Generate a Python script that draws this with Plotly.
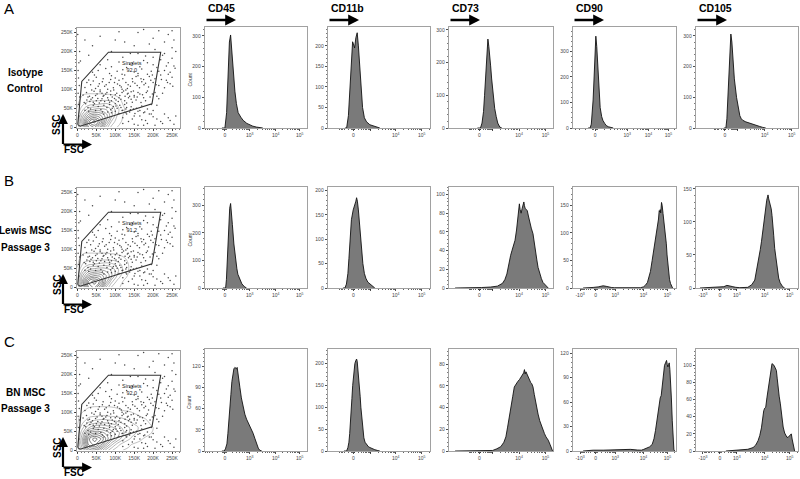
import math
import plotly.graph_objects as go

W, H = 800, 479
FONT = "Liberation Sans, Arial, sans-serif"

# ---------------- text content ----------------
markers = ["CD45", "CD11b", "CD73", "CD90", "CD105"]
row_letters = ["A", "B", "C"]
row_names = [["Isotype", "Control"], ["Lewis MSC", "Passage 3"], ["BN MSC", "Passage 3"]]
gate_name = "Singlets"
gate_pct = ["92.0", "91.2", "92.0"]

# ---------------- scatter (FSC / SSC, in K units) ----------------
scat_ticks = [0, 50, 100, 150, 200, 250]
scat_ticklabels = ["0", "50K", "100K", "150K", "200K", "250K"]
gate_fsc = [1, 11.6, 82, 220, 197, 7, 1]
gate_ssc = [7, 121, 198, 198, 62, 2.6, 7]

event_fsc = [20, 28, 35, 42, 55, 62, 70, 78, 85, 95, 105, 112, 120, 130, 138, 148, 160, 175, 190, 30, 48, 66, 88, 100, 125,
             18, 25, 33, 40, 50, 58, 65, 72, 80, 90, 98, 108, 115, 125, 135, 145, 155, 168, 180, 195, 210, 45, 85, 130, 150,
             15, 24, 32, 44, 52, 60, 70, 78, 88, 96, 104, 112, 122, 132, 142, 150, 160, 172, 185, 198, 210, 225, 65, 118, 138,
             20, 35, 48, 58, 72, 84, 95, 106, 116, 128, 140, 152, 164, 176, 188, 200, 215, 230, 245, 80, 134, 170,
             30, 50, 68, 90, 110, 125, 145, 160, 175, 190, 205, 220, 235, 250, 100, 185,
             40, 75, 105, 130, 150, 170, 195, 210, 230, 245, 258, 160,
             60, 110, 145, 175, 200, 220, 240, 255,
             30, 90, 140, 180, 205, 230, 250, 125, 200, 240, 60, 160, 255, 215,
             120, 135, 150, 170, 185, 200, 220, 240, 255, 160, 230, 130,
             3, 5, 2, 6, 4, 1,
             70, 80, 90, 100, 110, 118, 128, 140, 152, 165, 178, 92, 102, 115, 128, 142, 156, 170, 185, 200,
             22, 28, 36, 42, 48, 54, 62, 68, 75, 82, 92, 100, 110, 118, 126, 134, 142, 148, 158, 165, 175, 182, 192,
             205, 215, 60, 38, 88, 102, 128,
             25, 42, 55, 66, 76, 88, 98, 112, 120, 132, 146, 158, 168, 180, 194, 208, 222, 238, 252, 45, 85, 118,
             155, 198, 240,
             55, 90, 120, 138, 165, 185, 215, 235, 250, 200, 120, 80, 160, 225,
             40, 100, 150, 190, 230, 260, 175, 110, 20, 250,
             145, 165, 180, 195, 210, 225, 245, 260, 150, 175, 205, 120,
             2, 4, 3, 8, 6]
event_ssc = [45, 52, 48, 58, 55, 47, 58, 52, 60, 55, 50, 58, 45, 52, 40, 48, 42, 38, 35, 42, 44, 40, 46, 62, 60,
             65, 72, 68, 78, 70, 64, 75, 68, 78, 70, 76, 68, 74, 70, 78, 66, 72, 65, 70, 60, 58, 62, 66, 64, 80,
             85, 92, 82, 95, 88, 98, 84, 92, 86, 98, 90, 84, 96, 88, 94, 84, 92, 86, 96, 88, 82, 90, 90, 100, 82,
             105, 112, 102, 115, 108, 118, 104, 114, 106, 118, 108, 116, 104, 112, 106, 118, 110, 104, 115, 100, 112, 120,
             125, 132, 128, 136, 124, 138, 128, 136, 126, 134, 128, 138, 124, 132, 130, 140,
             145, 155, 148, 158, 146, 154, 148, 158, 150, 145, 156, 142,
             165, 172, 168, 176, 165, 178, 170, 162,
             190, 200, 195, 188, 205, 195, 210, 225, 235, 245, 240, 250, 230, 255,
             25, 15, 30, 20, 10, 28, 15, 25, 8, 5, 35, 35,
             60, 110, 150, 200, 30, 245,
             35, 40, 38, 42, 36, 44, 38, 46, 36, 44, 40, 50, 56, 52, 48, 54, 50, 56, 48, 44,
             62, 80, 74, 66, 84, 76, 70, 82, 88, 72, 80, 86, 78, 92, 82, 90, 74, 96, 80, 88, 78, 92, 80,
             92, 75, 94, 98, 96, 72, 98,
             118, 122, 108, 120, 112, 126, 118, 110, 128, 102, 120, 110, 128, 116, 124, 112, 126, 118, 108, 138, 142, 140,
             134, 138, 140,
             150, 160, 152, 166, 160, 170, 148, 162, 182, 185, 185, 178, 195, 190,
             215, 230, 215, 220, 225, 200, 258, 252, 230, 255,
             22, 30, 18, 35, 22, 10, 18, 30, 8, 5, 5, 10,
             90, 170, 130, 175, 80]

# density grids for the contour plots (FSC x SSC, K units)
dens_fsc = [0, 15, 30, 45, 60, 75, 90, 105, 120, 135, 150, 165, 180, 195, 210]
dens_ssc = [0, 15, 30, 45, 60, 75, 90, 105, 120]
dens_iso = [
    [4, 30, 70, 80, 60, 25, 8, 2, 0, 0, 0, 0, 0, 0, 0],
    [6, 45, 85, 100, 80, 45, 18, 5, 1, 0, 0, 0, 0, 0, 0],
    [5, 35, 60, 70, 65, 50, 30, 10, 2, 0, 0, 0, 0, 0, 0],
    [3, 20, 35, 40, 42, 38, 28, 14, 3, 0, 0, 0, 0, 0, 0],
    [1, 10, 16, 18, 20, 22, 18, 10, 2, 0, 0, 0, 0, 0, 0],
    [0, 4, 6, 6, 6, 6, 5, 3, 1, 0, 0, 0, 0, 0, 0],
    [0, 1, 1.5, 1.5, 1.5, 1, 1, 0.5, 0, 0, 0, 0, 0, 0, 0],
    [0, 0, 0, 0, 0, 0, 0, 0, 0, 0, 0, 0, 0, 0, 0],
    [0, 0, 0, 0, 0, 0, 0, 0, 0, 0, 0, 0, 0, 0, 0],
]
dens_lewis = [
    [4, 35, 80, 90, 65, 28, 10, 3, 1, 0, 0, 0, 0, 0, 0],
    [6, 50, 90, 100, 85, 50, 22, 8, 2, 0, 0, 0, 0, 0, 0],
    [5, 38, 62, 72, 68, 55, 38, 18, 6, 1, 0, 0, 0, 0, 0],
    [3, 22, 38, 42, 45, 42, 35, 22, 10, 2, 0, 0, 0, 0, 0],
    [1, 12, 18, 20, 22, 24, 22, 16, 8, 2, 0, 0, 0, 0, 0],
    [0, 5, 7, 7, 7, 7, 7, 5, 3, 1, 0, 0, 0, 0, 0],
    [0, 1.5, 2, 2, 2, 2, 1.5, 1, 0.5, 0, 0, 0, 0, 0, 0],
    [0, 0, 0, 0, 0, 0, 0, 0, 0, 0, 0, 0, 0, 0, 0],
    [0, 0, 0, 0, 0, 0, 0, 0, 0, 0, 0, 0, 0, 0, 0],
]
dens_bn = [
    [4, 25, 55, 60, 45, 25, 12, 5, 2, 1, 0, 0, 0, 0, 0],
    [6, 40, 80, 90, 75, 50, 30, 15, 6, 3, 1, 0.5, 0, 0, 0],
    [5, 40, 85, 100, 90, 70, 50, 35, 22, 12, 6, 3, 1, 0.5, 0],
    [4, 30, 60, 70, 68, 60, 50, 40, 30, 20, 12, 7, 4, 2, 0.5],
    [2, 18, 35, 42, 45, 42, 38, 32, 26, 20, 14, 9, 5, 2.5, 1],
    [1, 9, 18, 22, 24, 24, 22, 20, 16, 12, 8, 5, 3, 1, 0],
    [0.5, 4, 8, 10, 11, 11, 10, 9, 7, 5, 3, 2, 1, 0, 0],
    [0, 1.5, 3, 4, 4, 4, 3.5, 3, 2, 1.5, 1, 0.5, 0, 0, 0],
    [0, 0.5, 1, 1, 1, 1, 1, 0.5, 0, 0, 0, 0, 0, 0, 0],
]

# ---------------- histograms: (display channel 0-1024, count) ----------------
iso_cd45 = [(170, 0), (200, 0), (217, 50), (233, 200), (245, 280), (257, 303), (267, 260), (277, 200), (290, 150),
            (300, 120), (315, 80), (333, 50), (360, 35), (383, 25), (420, 15), (450, 10), (480, 6), (517, 3), (550, 1), (580, 0)]
iso_cd11b = [(170, 0), (187, 0), (205, 30), (220, 100), (235, 170), (247, 210), (255, 205), (267, 195), (280, 220),
             (293, 232), (305, 200), (320, 150), (335, 90), (347, 50), (365, 25), (387, 15), (420, 8), (453, 5), (490, 2), (520, 0)]
iso_cd73 = [(280, 0), (310, 0), (325, 15), (340, 50), (350, 100), (360, 150), (372, 230), (383, 272), (392, 250),
            (400, 230), (410, 190), (420, 150), (435, 100), (450, 60), (465, 35), (480, 15), (500, 3), (520, 0)]
iso_cd90 = [(150, 0), (170, 0), (182, 15), (190, 50), (200, 110), (210, 200), (218, 290), (227, 360), (236, 320),
            (245, 250), (257, 150), (270, 80), (285, 45), (297, 30), (315, 18), (330, 10), (350, 5), (370, 2), (400, 0)]
iso_cd105 = [(280, 0), (300, 0), (310, 30), (320, 100), (330, 200), (337, 250), (343, 290), (350, 306), (360, 280),
             (370, 220), (385, 160), (407, 100), (425, 60), (440, 40), (455, 30), (470, 25), (500, 20), (540, 15),
             (575, 11), (610, 8), (640, 5), (670, 2), (700, 0)]

lew_cd45 = [(180, 0), (207, 0), (215, 30), (225, 100), (233, 180), (240, 250), (248, 290), (257, 307), (265, 280),
            (275, 230), (290, 160), (307, 100), (320, 70), (330, 50), (350, 30), (370, 15), (395, 5), (417, 0)]
lew_cd11b = [(150, 0), (170, 0), (185, 8), (200, 30), (210, 60), (220, 100), (235, 140), (253, 160), (262, 165),
             (270, 170), (280, 178), (287, 185), (295, 178), (305, 160), (320, 120), (335, 80), (350, 50), (365, 30),
             (380, 20), (400, 12), (420, 8), (445, 3), (470, 0)]
lew_cd73 = [(60, 0), (200, 0), (320, 0.5), (410, 1), (477, 2), (527, 5), (550, 9), (570, 15), (593, 30), (607, 35),
            (620, 40), (635, 45), (650, 51), (665, 62), (677, 72), (685, 80), (693, 90), (700, 84), (710, 80),
            (720, 85), (728, 88), (737, 92), (743, 88), (750, 85), (760, 84), (770, 83), (782, 77), (793, 71),
            (810, 64), (827, 58), (840, 50), (853, 40), (865, 30), (877, 22), (893, 15), (910, 10), (925, 6),
            (943, 4), (960, 2), (977, 0)]
lew_cd90 = [(100, 0), (170, 0), (200, 1), (250, 2), (280, 3.5), (300, 4), (330, 3), (350, 2), (380, 1), (410, 0.5),
            (500, 0.3), (600, 0.3), (670, 0.5), (700, 2), (720, 5), (740, 10), (755, 20), (770, 30), (787, 50),
            (800, 65), (810, 80), (820, 90), (830, 100), (840, 115), (850, 125), (857, 140), (862, 138), (867, 142),
            (872, 136), (880, 155), (886, 150), (895, 135), (905, 118), (910, 110), (920, 100), (928, 80), (935, 60),
            (942, 45), (950, 30), (960, 15), (970, 8), (980, 3), (990, 0)]
lew_cd105 = [(40, 0), (150, 0.5), (240, 1), (280, 2), (310, 4), (340, 3.5), (370, 2), (400, 1), (440, 0.5), (520, 1),
             (560, 5), (590, 12), (607, 25), (620, 35), (630, 45), (645, 58), (657, 70), (670, 88), (680, 100),
             (690, 112), (700, 125), (710, 133), (718, 138), (723, 141), (730, 135), (740, 130), (748, 124),
             (755, 120), (763, 110), (770, 100), (780, 80), (790, 60), (800, 48), (807, 40), (818, 25), (830, 15),
             (845, 8), (857, 5), (870, 2), (890, 0)]

bn_cd45 = [(170, 0), (193, 0), (205, 3), (220, 10), (230, 25), (240, 40), (250, 60), (260, 80), (270, 98), (280, 110),
           (290, 116), (300, 118), (308, 117), (315, 116), (323, 118), (330, 112), (340, 100), (350, 90), (365, 75),
           (383, 60), (400, 52), (417, 45), (435, 40), (450, 35), (465, 30), (483, 25), (500, 18), (517, 10),
           (535, 4), (550, 1), (570, 0)]
bn_cd11b = [(160, 0), (187, 0), (200, 8), (210, 20), (218, 40), (225, 60), (232, 90), (240, 120), (248, 150),
            (255, 170), (262, 190), (270, 200), (280, 207), (287, 210), (293, 205), (300, 190), (308, 170), (315, 150),
            (323, 125), (330, 100), (338, 75), (345, 55), (352, 40), (360, 30), (372, 20), (387, 15), (405, 10),
            (420, 8), (445, 5), (470, 3), (500, 1), (520, 0)]
bn_cd73 = [(60, 0), (300, 0), (430, 0.5), (470, 2), (510, 4), (540, 8), (560, 13), (577, 22), (593, 30), (610, 38),
           (627, 50), (643, 59), (660, 62), (677, 64), (695, 66), (710, 68), (727, 70), (735, 72), (743, 75),
           (750, 71), (758, 73), (767, 71), (777, 68), (790, 66), (805, 63), (815, 62), (827, 59), (840, 52),
           (850, 46), (860, 41), (877, 34), (893, 28), (910, 23), (927, 19), (940, 16), (955, 13), (977, 10),
           (995, 6), (1010, 2), (1020, 0)]
bn_cd90 = [(100, 0), (150, 0.5), (200, 1), (300, 1), (400, 1.2), (500, 1.5), (570, 2), (640, 1.2), (680, 1),
           (703, 2), (730, 3), (760, 5), (787, 8), (805, 15), (820, 25), (837, 41), (853, 56), (867, 65), (877, 68),
           (887, 80), (897, 91), (910, 105), (920, 108), (930, 111), (937, 106), (943, 103), (950, 106), (957, 108),
           (963, 100), (970, 87), (978, 65), (987, 37), (995, 15), (1003, 2), (1010, 0)]
bn_cd105 = [(300, 0), (380, 0.5), (473, 1), (520, 2), (573, 4), (600, 7), (623, 12), (640, 18), (657, 27), (668, 38),
            (680, 47), (690, 50), (700, 51), (712, 62), (723, 71), (732, 78), (740, 86), (750, 93), (757, 98),
            (763, 102), (772, 101), (783, 100), (795, 97), (807, 94), (815, 85), (823, 75), (835, 64), (847, 55),
            (855, 45), (863, 35), (875, 28), (890, 21), (903, 17), (913, 16), (925, 16), (940, 18), (950, 20),
            (957, 20), (965, 14), (973, 8), (982, 3), (990, 0)]

hists = [[iso_cd45, iso_cd11b, iso_cd73, iso_cd90, iso_cd105],
         [lew_cd45, lew_cd11b, lew_cd73, lew_cd90, lew_cd105],
         [bn_cd45, bn_cd11b, bn_cd73, bn_cd90, bn_cd105]]

# x axis ticks (display channel positions) per row / marker
E3, E4, E5, N3 = "10<sup>3</sup>", "10<sup>4</sup>", "10<sup>5</sup>", "-10<sup>3</sup>"
tk_cd45 = ([200, 450, 710, 950], ["0", E3, E4, E5])
tk_cd11b = ([254, 430, 680, 940], ["0", "", E4, E5])
tk_cd73 = ([300, 430, 690, 950], ["0", "", E4, E5])
tk_cd90_a = ([220, 540, 750, 950], ["0", E3, E4, E5])
tk_cd90_b = ([70, 225, 420, 700, 940], [N3, "0", E3, E4, E5])
tk_cd105_a = ([290, 420, 690, 960], ["0", "", E4, E5])
tk_cd105_b = ([70, 240, 410, 690, 940], [N3, "0", E3, E4, E5])
xticks = [[tk_cd45, tk_cd11b, tk_cd73, tk_cd90_a, tk_cd105_a],
          [tk_cd45, tk_cd11b, tk_cd73, tk_cd90_b, tk_cd105_b],
          [tk_cd45, tk_cd11b, tk_cd73, tk_cd90_b, tk_cd105_b]]
ymax = [[329, 246, 309, 396, 329],
        [367, 207, 108, 183, 153],
        [144, 233, 94, 125, 119]]
ydtick = [[100, 50, 100, 100, 100],
          [100, 50, 20, 50, 50],
          [30, 50, 20, 30, 20]]

# ---------------- layout geometry (pixels) ----------------
hist_rows_px = [(27, 128), (187, 288), (349, 451)]
scat_rows_px = [(28, 128), (188, 288), (351, 451)]
hist_cols_px = [(205, 307), (328, 430), (449, 553), (573, 676), (696, 798)]
scat_col_px = (77, 180)


def xdom(a, b):
    return [a / W, b / W]


def ydom(t, b):
    return [1 - b / H, 1 - t / H]


def x_minor(pos, labs, lo=0, hi=1024):
    zi = labs.index("0")
    p0 = pos[zi]
    out = []
    pos_dec = pos[zi + 1:]
    if pos_dec:
        sp = pos_dec[0] - p0
        for f in [0.04, 0.08, 0.3, 0.48, 0.6, 0.7, 0.78, 0.85, 0.91, 0.96]:
            out.append(p0 + f * sp)
        for f in [0.04, 0.08]:
            out.append(p0 - f * sp)
        if zi == 0:
            for f in [0.3, 0.48, 0.6, 0.7, 0.78]:
                v = p0 - f * sp
                if v > lo + 4:
                    out.append(v)
        else:
            pn = pos[zi - 1]
            for f in [0.3, 0.48, 0.6, 0.7, 0.78, 0.85, 0.91]:
                out.append(p0 - f * (p0 - pn))
            for m in [2, 3]:
                v = pn - math.log10(m) * (pos_dec[-1] - pos_dec[-2])
                if v > lo + 4:
                    out.append(v)
    for a, b in zip(pos_dec[:-1], pos_dec[1:]):
        for m in range(2, 10):
            out.append(a + math.log10(m) * (b - a))
    if len(pos_dec) >= 2:
        d = pos_dec[-1] - pos_dec[-2]
        v = pos_dec[-1] + math.log10(2) * d
        if v < hi - 3:
            out.append(v)
    return out


TICKFONT = dict(size=5, color="#444", family=FONT)
FRAME = "#8a8a8a"

fig = go.Figure()
layout = dict(width=W, height=H, margin=dict(l=0, r=0, t=0, b=0, pad=0, autoexpand=False),
              paper_bgcolor="white", plot_bgcolor="white", showlegend=False,
              font=dict(family=FONT))
annotations = []


def ann(text, x, y, size=10, bold=False, angle=0, xanchor="center", yanchor="middle", color="#000"):
    annotations.append(dict(text=f"<b>{text}</b>" if bold else text, x=x / W, y=1 - y / H,
                            xref="paper", yref="paper", showarrow=False, textangle=angle,
                            font=dict(size=size, color=color, family=FONT),
                            xanchor=xanchor, yanchor=yanchor))


def arrow(x0, y0, x1, y1, width=2.2):
    # tip at (x1, y1); tail offset in screen pixels
    annotations.append(dict(x=x1 / W, y=1 - y1 / H, ax=x0 - x1, ay=y0 - y1,
                            xref="paper", yref="paper", axref="pixel", ayref="pixel",
                            showarrow=True, arrowhead=2, arrowsize=0.9, arrowwidth=width,
                            arrowcolor="#000", text=""))


n = 0
for r in range(3):
    # ---- scatter / contour panel ----
    n += 1
    sfx = "" if n == 1 else str(n)
    xa, ya = "x" + sfx, "y" + sfx
    t, b = scat_rows_px[r]
    common = dict(showgrid=False, zeroline=False, showline=True, linecolor=FRAME, linewidth=0.8, mirror=True,
                  automargin=False,
                  ticks="outside", ticklen=2.5, tickcolor="#222", tickwidth=0.8, tickfont=TICKFONT,
                  tickmode="array", tickvals=scat_ticks, ticktext=scat_ticklabels,
                  minor=dict(dtick=10, tick0=0, ticks="outside", ticklen=1.5, tickcolor="#222", tickwidth=0.6))
    layout["xaxis" + sfx] = dict(domain=xdom(*scat_col_px), anchor=ya, range=[-1, 271], **common)
    layout["yaxis" + sfx] = dict(domain=ydom(t, b), anchor=xa, range=[-2, 262], **common)
    fig.add_trace(go.Scatter(x=event_fsc, y=event_ssc, mode="markers", xaxis=xa, yaxis=ya,
                             marker=dict(size=1.5, color="#333", opacity=0.9), hoverinfo="skip"))
    dens = [dens_iso, dens_lewis, dens_bn][r]
    fig.add_trace(go.Contour(x=dens_fsc, y=dens_ssc, z=dens, xaxis=xa, yaxis=ya, showscale=False,
                             contours=dict(coloring="lines", start=2, end=100, size=8.5),
                             line=dict(width=0.6, smoothing=1.3),
                             colorscale=[[0, "#9a9a9a"], [1, "#1e1e1e"]], hoverinfo="skip"))
    fig.add_trace(go.Scatter(x=gate_fsc, y=gate_ssc, mode="lines", xaxis=xa, yaxis=ya,
                             line=dict(color="#333", width=1.1), hoverinfo="skip"))
    annotations.append(dict(text=f"{gate_name}<br>{gate_pct[r]}", x=144, y=160, xref=xa, yref=ya,
                            showarrow=False, font=dict(size=5.5, color="#222", family=FONT)))

    # ---- histogram panels ----
    ht, hb = hist_rows_px[r]
    for c in range(5):
        n += 1
        sfx = str(n)
        xa, ya = "x" + sfx, "y" + sfx
        tv, tt = xticks[r][c]
        layout["xaxis" + sfx] = dict(domain=xdom(*hist_cols_px[c]), anchor=ya, range=[0, 1024],
                                     automargin=False,
                                     showgrid=False, zeroline=False, showline=True, linecolor=FRAME,
                                     linewidth=0.8, mirror=True, ticks="outside", ticklen=2.5,
                                     tickcolor="#222", tickwidth=0.8, tickfont=TICKFONT,
                                     tickmode="array", tickvals=tv, ticktext=tt,
                                     minor=dict(tickmode="array", tickvals=x_minor(tv, tt), ticks="outside",
                                                ticklen=1.6, tickcolor="#222", tickwidth=0.7))
        dt = ydtick[r][c]
        layout["yaxis" + sfx] = dict(domain=ydom(ht, hb), anchor=xa, range=[0, ymax[r][c]],
                                     automargin=False,
                                     showgrid=False, zeroline=False, showline=True, linecolor=FRAME,
                                     linewidth=0.8, mirror=True, ticks="outside", ticklen=2.5,
                                     tickcolor="#222", tickwidth=0.8, tickfont=TICKFONT,
                                     tick0=0, dtick=dt,
                                     minor=dict(tick0=0, dtick=dt / 5, ticks="outside", ticklen=1.5,
                                                tickcolor="#222", tickwidth=0.6))
        data = hists[r][c]
        fig.add_trace(go.Scatter(x=[p[0] for p in data], y=[p[1] for p in data], mode="lines",
                                 fill="tozeroy", fillcolor="#7a7a7a", xaxis=xa, yaxis=ya,
                                 line=dict(color="#111", width=0.9), hoverinfo="skip"))
        if c == 0:
            ann("Count", 189, (ht + hb) / 2 + 2, size=5, angle=-90, color="#333")

    # ---- row labels, letters, SSC/FSC arrows ----
    ann(row_letters[r], 2, [9, 180, 341][r], size=15, xanchor="left")
    ly = [72, 231, 392][r]
    ann(row_names[r][0], 25, ly, size=10, bold=True)
    ann(row_names[r][1], 25, ly + 16.5, size=10, bold=True)
    corner = b + 16.5
    arrow(63, corner + 1, 63, b - 14)
    arrow(62, corner, 92, corner)
    ann("SSC", 57, b - 4, size=10, bold=True, angle=-90)
    ann("FSC", 74, corner + 5, size=10, bold=True)

# column headers + arrows
for c, m in enumerate(markers):
    left = hist_cols_px[c][0]
    ann(m, left + 1, 8, size=10.5, bold=True, xanchor="left")
    arrow(left, 20, left + 31, 20, width=2.4)

layout["annotations"] = annotations
fig.update_layout(**layout)
fig.write_html("out.html", config={"displayModeBar": False, "staticPlot": True},
               post_script="document.body.style.margin='0';document.body.style.padding='0';"
                           "document.body.style.overflow='hidden';")
